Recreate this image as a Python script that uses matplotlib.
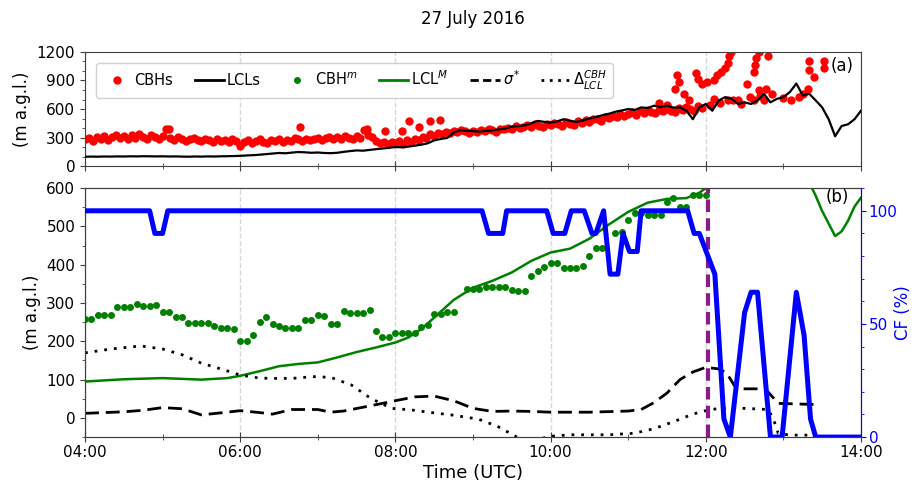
import numpy as np
import matplotlib
matplotlib.use('Agg')
import matplotlib.pyplot as plt
from matplotlib.ticker import MultipleLocator, FuncFormatter
from matplotlib.lines import Line2D


def hm(lst):
    # 'HH:MM' -> decimal hours
    return np.array([int(s[:2]) + int(s[3:]) / 60. for s in lst])


# ---- panel (a): ceilometer CBHs (3-min) and LCLs (5-min) ----
cbh_t = np.arange(0, 160) * 0.05 + 4.0
cbh_v = [280, 300, 265, 310, 290, 320, 275, 305, 330, 295, 315, 285, 325, 300, 340, 310, 290, 330, 305, 285,
         320, 385, 300, 275, 310, 290, 265, 285, 300, 270, 260, 290, 275, 255, 280, 265, 270, 250, 280, 260,
         215, 250, 270, 240, 265, 280, 255, 245, 275, 260, 285, 250, 270, 265, 300, 280, 260, 290, 275, 285,
         300, 270, 295, 310, 280, 305, 290, 320, 300, 285, 315, 300, 380, 330, 305, 260, 240, 255, 230, 250,
         245, 260, 235, 270, 250, 290, 270, 310, 300, 335, 320, 350, 340, 360, 345, 370, 355, 380, 365, 350,
         370, 355, 380, 365, 390, 375, 360, 395, 385, 405, 390, 420, 400, 415, 430, 410, 440, 425, 415, 445,
         430, 455, 440, 420, 460, 445, 435, 470, 455, 480, 465, 500, 490, 475, 520, 505, 530, 515, 545, 530,
         550, 565, 540, 575, 560, 585, 570, 555, 590, 575, 600, 580, 565, 610, 590, 620, 600, 580, 630, 610]
cbh_xt = [5.08, 6.77, 7.63, 7.87, 8.08, 8.18, 8.30, 8.45, 8.58,
          11.60, 11.63, 11.65, 11.72, 11.78, 11.87, 11.90, 11.95, 12.02, 12.10, 12.15, 12.20, 12.25,
          12.28, 12.30, 12.32, 12.10, 12.28, 12.42, 12.53, 12.62, 12.63, 12.65, 12.68, 12.80, 12.68,
          12.77, 12.57, 12.62, 13.32, 13.33, 13.33, 13.40, 13.52, 13.52, 11.68, 12.05, 12.18, 12.35,
          12.45, 12.70, 12.75, 12.85, 13.00, 13.10, 13.20, 13.25, 11.50, 11.40]
cbh_xv = [385, 414, 385, 368, 370, 475, 414, 475, 480,
          814, 957, 885, 760, 690, 975, 920, 868, 885, 903, 957, 993, 1028,
          1082, 1153, 1200, 707, 690, 690, 868, 993, 1064, 1135, 1200, 1153, 800,
          814, 725, 690, 814, 1010, 1100, 940, 1100, 1028, 600, 640, 660, 700,
          650, 740, 700, 760, 720, 700, 730, 760, 640, 660]

lcl_t = np.arange(0, 121) * (5 / 60.) + 4.0
lcl_v = [98, 100, 99, 101, 100, 102, 101, 103, 102, 104, 103, 102,
         103, 101, 102, 100, 99, 101, 100, 102, 101, 103, 104, 106,
         108, 112, 115, 120, 126, 132, 138, 135, 142, 148, 145, 140,
         143, 138, 136, 140, 150, 158, 165, 162, 170, 178, 185, 192,
         200, 198, 205, 215, 225, 240, 270, 285, 296, 350, 378, 372,
         368, 362, 370, 375, 385, 395, 414, 420, 428, 450, 475, 465,
         457, 470, 493, 478, 464, 480, 500, 515, 535, 550, 571, 585,
         600, 590, 617, 610, 635, 620, 635, 615, 617, 582, 493, 617,
         653, 582, 690, 725, 707, 653, 670, 653, 690, 760, 670, 707,
         725, 778, 868, 742, 760, 690, 617, 493, 314, 421, 440, 493,
         582]

# ---- panel (b) ----
cbhm_t = np.arange(0, 97) * (5 / 60.) + 4.0
cbhm_v = [258, 258, 270, 270, 270, 290, 290, 290, 297, 292,
          292, 295, 277, 277, 264, 264, 249, 249, 249, 247,
          240, 234, 234, 232, 202, 202, 217, 250, 264, 245,
          241, 234, 234, 234, 256, 256, 270, 267, 245, 245,
          279, 274, 274, 274, 282, 227, 212, 212, 221, 221,
          221, 221, 238, 243, 271, 271, 277, 277, np.nan, 336,
          336, 337, 343, 343, 343, 343, 334, 332, 332, 370,
          384, 395, 405, 405, 392, 392, 392, 397, 423, 444,
          444, np.nan, 484, 486, 518, 534, 534, 530, 530, 531,
          563, 573, 550, 550, 582, 582, 582]

lclm_t = hm(['04:00', '04:30', '05:00', '05:30', '05:50', '06:00', '06:15', '06:30', '06:45', '07:00',
             '07:15', '07:30', '07:45', '08:00', '08:10', '08:20', '08:30', '08:45', '09:00', '09:15',
             '09:30', '09:45', '10:00', '10:15', '10:30', '10:45', '11:00', '11:15', '11:30', '11:45',
             '11:55', '12:00', '12:20', '12:40', '13:00', '13:15', '13:25', '13:30', '13:40', '13:45',
             '13:50', '13:55', '14:00'])
lclm_v = [95, 101, 104, 100, 104, 110, 122, 135, 141, 145,
          158, 172, 184, 197, 210, 232, 262, 308, 340, 358,
          380, 410, 432, 442, 468, 505, 538, 562, 572, 574,
          588, 600, 650, 690, 690, 650, 580, 540, 475, 487,
          515, 552, 575]

sig_t = hm(['04:00', '04:30', '04:45', '05:00', '05:15', '05:30', '05:50', '06:00', '06:15', '06:25',
            '06:40', '07:00', '07:10', '07:20', '07:35', '07:50', '08:00', '08:15', '08:30', '08:45',
            '09:00', '09:15', '09:30', '09:45', '10:00', '10:30', '11:00', '11:10', '11:20', '11:30',
            '11:40', '11:50', '12:00', '12:10', '12:16', '12:22', '12:26', '12:46', '12:56', '13:25'])
sig_v = [12, 16, 20, 27, 24, 8, 15, 19, 14, 10,
         22, 22, 15, 18, 28, 38, 45, 55, 57, 45,
         25, 17, 18, 17, 15, 15, 18, 22, 40, 65,
         100, 120, 132, 128, 118, 85, 76, 76, 38, 35]

dlt_t = hm(['04:00', '04:20', '04:43', '05:00', '05:15', '05:30', '05:45', '06:00', '06:15', '06:30',
            '06:45', '06:55', '07:10', '07:26', '07:41', '07:57', '08:12', '08:28', '08:43', '09:04',
            '09:19', '09:34', '09:45', '09:55', '10:00', '10:15', '10:45', '11:05', '11:20', '11:35',
            '11:50', '12:00', '12:10', '12:30', '12:48', '12:52', '12:56', '13:05', '13:30'])
dlt_v = [170, 180, 188, 180, 165, 143, 128, 112, 104, 103,
         104, 108, 106, 86, 51, 25, 21, 14, 8, -3,
         -22, -50, -60, -52, -48, -44, -44, -40, -28, -10,
         10, 19, 25, 25, 22, 0, -40, -45, -45]

cf_t = hm(['04:00', '04:50', '04:54', '05:00', '05:04', '09:07', '09:12', '09:23', '09:26', '09:57',
           '10:02', '10:11', '10:16', '10:26', '10:32', '10:35', '10:41', '10:46', '10:52', '10:56',
           '11:01', '11:07', '11:10', '11:46', '11:51', '11:55', '12:07', '12:14', '12:19', '12:26',
           '12:30', '12:35', '12:40', '12:50', '12:59', '13:10', '13:16', '13:21', '13:25', '14:00'])
cf_v = [100, 100, 90, 90, 100, 100, 90, 90, 100, 100,
        90, 90, 100, 100, 90, 90, 100, 72, 72, 90,
        82, 82, 100, 100, 90, 90, 72, 8, 0, 35,
        55, 64, 64, 0, 0, 64, 45, 8, 0, 0]

t_break = hm(['12:02'])[0]

spine_c = '#404040'
fig = plt.figure(figsize=(9.14, 4.90), dpi=100)
ax1 = fig.add_axes([0.093, 0.661, 0.849, 0.233])
ax2 = fig.add_axes([0.093, 0.108, 0.849, 0.508])
ax3 = ax2.twinx()

fmt = FuncFormatter(lambda x, p: '%02d:00' % int(round(x)))
for ax in (ax1, ax2):
    ax.set_xlim(4, 14)
    ax.xaxis.set_major_locator(MultipleLocator(2))
    ax.xaxis.set_minor_locator(MultipleLocator(1))
    ax.xaxis.set_major_formatter(fmt)
    ax.grid(axis='x', which='major', color='#d8d8d8', ls='--', lw=1)
    ax.tick_params(axis='x', which='major', direction='inout', length=7, labelsize=11, color=spine_c, pad=2)
    ax.tick_params(axis='x', which='minor', direction='inout', length=4, color=spine_c)
    ax.tick_params(axis='y', which='both', labelsize=11, color=spine_c)
    for s in ax.spines.values():
        s.set_color(spine_c)

# (a)
ax1.plot(cbh_t, cbh_v, 'o', color='red', ms=6, mec='none', zorder=2)
ax1.plot(cbh_xt, cbh_xv, 'o', color='red', ms=6, mec='none', zorder=2)
ax1.plot(lcl_t, lcl_v, color='black', lw=1.6, zorder=3)
ax1.set_ylim(0, 1200)
ax1.yaxis.set_major_locator(MultipleLocator(300))
ax1.yaxis.set_minor_locator(MultipleLocator(100))
ax1.tick_params(axis='x', labelbottom=False)
ax1.set_ylabel('(m a.g.l.)', fontsize=12)
ax1.text(0.99, 0.88, '(a)', transform=ax1.transAxes, ha='right', va='center', fontsize=12)
ax1.set_title('27 July 2016', fontsize=12, pad=20)

# (b)
ax2.plot(lclm_t, lclm_v, color='green', lw=1.8, zorder=2)
ax2.plot(cbhm_t, cbhm_v, 'o', color='green', ms=5, mec='none', zorder=3)
ax2.plot(sig_t, sig_v, color='black', lw=2, ls=(0, (5, 2.5)), zorder=2)
ax2.plot(dlt_t, dlt_v, color='black', lw=2, ls=(0, (1, 2.5)), zorder=2)
ax2.axvline(t_break, color='#8b1a8b', lw=3, ls=(0, (3, 1.5)), zorder=4)
ax2.set_ylim(-50, 600)
ax2.yaxis.set_major_locator(MultipleLocator(100))
ax2.yaxis.set_minor_locator(MultipleLocator(50))
ax2.set_ylabel('(m a.g.l.)', fontsize=12)
ax2.set_xlabel('Time (UTC)', fontsize=13, labelpad=3)
ax2.text(0.985, 0.965, '(b)', transform=ax2.transAxes, ha='right', va='center', fontsize=12)

ax3.plot(cf_t, cf_v, color='blue', lw=3.6, zorder=5)
ax3.set_ylim(0, 110)
ax3.yaxis.set_major_locator(MultipleLocator(50))
ax3.yaxis.set_minor_locator(MultipleLocator(10))
ax3.tick_params(axis='y', which='both', colors='blue', labelsize=11, pad=2)
ax3.spines['right'].set_color('blue')
for s in ('top', 'bottom', 'left'):
    ax3.spines[s].set_color(spine_c)
ax3.set_ylabel('CF (%)', color='blue', fontsize=12)
ax3.yaxis.set_label_coords(1.043, 0.5)

handles = [Line2D([], [], ls='none', marker='o', color='red', ms=6, mec='none'),
           Line2D([], [], color='black', lw=2),
           Line2D([], [], ls='none', marker='o', color='green', ms=5, mec='none'),
           Line2D([], [], color='green', lw=2),
           Line2D([], [], color='black', lw=2, ls=(0, (3, 1.5))),
           Line2D([], [], color='black', lw=2, ls=(0, (1, 2)))]
labels = ['CBHs', 'LCLs', r'CBH$^m$', r'LCL$^M$', r'$\sigma^{*}$', r'$\Delta_{LCL}^{CBH}$']
ax1.legend(handles, labels, ncol=6, loc='upper left', bbox_to_anchor=(0.005, 0.97), fontsize=10.5,
           handlelength=2, handletextpad=0.2, columnspacing=1.5, borderpad=0.4, framealpha=0.9,
           edgecolor='#cccccc')

fig.savefig('out.png', dpi=100)
